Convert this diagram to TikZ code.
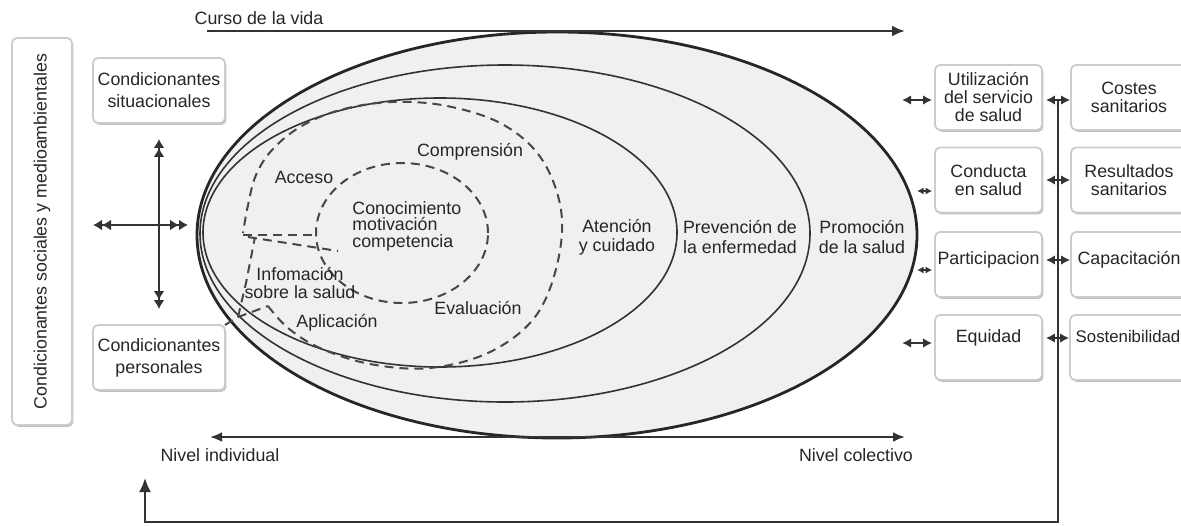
\documentclass[tikz,border=0pt]{standalone}
\usepackage{fontspec}
\setmainfont{Liberation Sans}
\usetikzlibrary{arrows.meta,shadows}

\tikzset{
  caja/.style={draw=black!20, line width=0.9pt, rounded corners=2.5pt, fill=white, align=center,
    inner sep=0pt, minimum height=32.5pt,
    drop shadow={shadow xshift=0.7pt, shadow yshift=-0.9pt, fill=black!25, opacity=1}},
  etiq/.style={inner sep=0pt, align=center},
  linea/.style={draw=black!80, line width=0.8pt},
  flecha/.style={linea, line width=0.9pt, {Latex[length=4.5pt,width=4.8pt]}-{Latex[length=4.5pt,width=4.8pt]}},
  chica/.style={linea, line width=0.7pt, {Latex[length=3.2pt,width=3.5pt]}-{Latex[length=3.2pt,width=3.5pt]}},
  doble/.style={linea, line width=1pt, {Latex[length=4.5pt,width=5.5pt]Latex[length=4.5pt,width=5.5pt]}-{Latex[length=4.5pt,width=5.5pt]Latex[length=4.5pt,width=5.5pt]}},
  discont/.style={draw=black!72, line width=1pt, dash pattern=on 4.5pt off 3pt},
}

\begin{document}
\begin{tikzpicture}[x=0.5pt,y=-0.5pt,font=\fontsize{8.9}{10}\selectfont,text=black!85]
\useasboundingbox (0,0) rectangle (1181,525);

% elipses
\filldraw[fill=black!6, draw=black!85, line width=1.4pt] (557,235) ellipse [x radius=180pt, y radius=101.5pt];
\draw[linea] (505,233.5) ellipse [x radius=152.5pt, y radius=84.25pt];
\draw[linea] (440,232.5) ellipse [x radius=118.5pt, y radius=67.25pt];

% alfabetizacion (discontinuo)
\draw[discont] plot[smooth, tension=0.6] coordinates {(268,306) (288,328) (320,348) (370,364) (430,368) (490,352) (535,317) (557,265) (561,210) (541,158) (502,124) (447,106) (392,102) (340,110) (300,127) (272,150) (256,175) (248,205) (243,233)};
\draw[discont] (225,325) -- (238,317) -- (268,306);
\draw[discont] (238,317) -- (246,283) -- (255,237);
\draw[discont] (243,235) -- (316,235);
\draw[discont] (248,237) -- (338,251);
\draw[discont] (402,233) ellipse [x radius=43pt, y radius=35pt];

\node[etiq] (acceso) at (304,177) {Acceso};
\node[etiq] (compr) at (470,152) {Comprensión};
\node[etiq, align=left, anchor=west, font=\fontsize{8.9}{8.2}\selectfont] (conoc) at (352,226) {Conocimiento\\motivación\\competencia};
\node[etiq, font=\fontsize{8.9}{8.6}\selectfont] (info) at (300,283) {Infomación\\sobre la salud};
\node[etiq] (aplic) at (337,323) {Aplicación};
\node[etiq] (eval) at (478,308) {Evaluación};
\node[etiq, font=\fontsize{8.9}{9.6}\selectfont] (atenc) at (617,237) {Atención\\y cuidado};
\node[etiq, font=\fontsize{8.9}{9.6}\selectfont] (prev) at (740,237) {Prevención de\\la enfermedad};
\node[etiq, font=\fontsize{8.9}{9.6}\selectfont] (prom) at (862,237) {Promoción\\de la salud};

% ejes
\coordinate (c0) at (207,31);
\coordinate (c1) at (905,31);
\draw[linea, line width=1.3pt, -{Latex[length=6.5pt,width=5.5pt]}] (c0) -- (c1);
\node[etiq] (curso) at (259,18) {Curso de la vida};
\coordinate (n0) at (210,437);
\coordinate (n1) at (905,437);
\draw[linea, line width=1.2pt, {Latex[length=6pt,width=5pt]}-{Latex[length=6pt,width=5pt]}] (n0) -- (n1);
\node[etiq] (indiv) at (220,455) {Nivel individual};
\node[etiq] (colec) at (856,455) {Nivel colectivo};

% condicionantes
\node[caja, rotate=90, minimum width=193.5pt, minimum height=30pt] (social) at (42,231.5) {Condicionantes sociales y medioambientales};
\node[caja, minimum width=66pt, font=\fontsize{8.9}{11}\selectfont] (sit) at (159,90.5) {Condicionantes\\situacionales};
\node[caja, minimum width=66pt, font=\fontsize{8.9}{11}\selectfont] (pers) at (159,357.5) {Condicionantes\\personales};
\coordinate (izq) at (93,225);
\coordinate (der) at (188,225);
\draw[doble] ([yshift=-7.5pt]sit.south) -- ([yshift=7.5pt]pers.north);
\draw[doble] (izq) -- (der);

% resultados
\node[caja, minimum width=53.5pt, font=\fontsize{8.9}{9}\selectfont] (u1) at (988.5,97.5) {Utilización\\del servicio\\de salud};
\node[caja, minimum width=53.5pt, font=\fontsize{8.9}{9}\selectfont] (u2) at (988.5,180) {Conducta\\en salud};
\node[caja, minimum width=53.5pt, text height=6.5pt, text depth=6.4pt] (u3) at (988.5,264.5) {Participacion};
\node[caja, minimum width=53.5pt, text height=6.5pt, text depth=11.4pt] (u4) at (988.5,347.5) {Equidad};
\node[caja, minimum width=58pt, font=\fontsize{8.9}{9}\selectfont] (r1) at (1129,97.5) {Costes\\sanitarios};
\node[caja, minimum width=58pt, font=\fontsize{8.9}{9}\selectfont] (r2) at (1129,180) {Resultados\\sanitarios};
\node[caja, minimum width=58pt, text height=6.5pt, text depth=6.4pt] (r3) at (1129,264.5) {Capacitación};
\node[caja, minimum width=58pt, text height=6.5pt, text depth=11.4pt, font=\fontsize{8.4}{10}\selectfont] (r4) at (1128,347.5) {Sostenibilidad};

\draw[flecha] ([xshift=-16pt,yshift=-1.25pt]u1.west) -- ([xshift=-1pt,yshift=-1.25pt]u1.west);
\draw[chica] ([xshift=-8.5pt,yshift=-5.5pt]u2.west) -- ([xshift=-1pt,yshift=-5.5pt]u2.west);
\draw[chica] ([xshift=-8.5pt,yshift=-2.75pt]u3.west) -- ([xshift=-1pt,yshift=-2.75pt]u3.west);
\draw[flecha] ([xshift=-16pt,yshift=2.25pt]u4.west) -- ([xshift=-1pt,yshift=2.25pt]u4.west);
\foreach \i/\s in {1/-1.25pt,2/0pt,3/2.25pt,4/4.75pt}
  \draw[flecha] ([xshift=1.5pt,yshift=\s]u\i.east) -- ([yshift=\s]r\i.west);

% retorno
\coordinate (v0) at (1058,100);
\coordinate (v1) at (1058,522);
\coordinate (v2) at (145,522);
\coordinate (v3) at (145,478);
\draw[linea, line width=1pt, -{Latex[length=7pt,width=6pt]}] (v0) -- (v1) -- (v2) -- (v3);
\end{tikzpicture}
\end{document}
